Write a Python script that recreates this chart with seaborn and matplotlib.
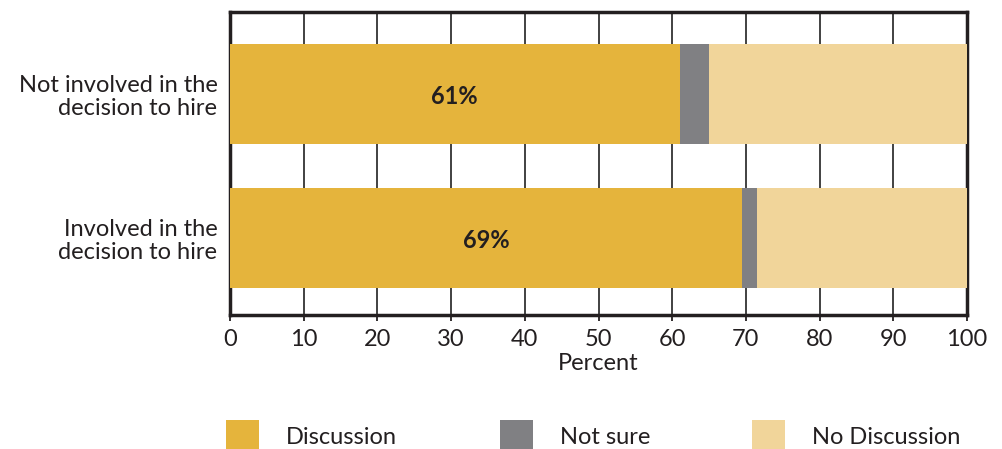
import matplotlib
matplotlib.use("Agg")
import matplotlib.pyplot as plt
import seaborn as sns
import pandas as pd
from matplotlib.patches import Patch

categories = ["Not involved in the\ndecision to hire", "Involved in the\ndecision to hire"]
discussion = [61.0, 69.5]
not_sure = [4.0, 2.0]
no_discussion = [35.0, 28.5]
labels = ["61%", "69%"]
series_names = ["Discussion", "Not sure", "No Discussion"]
colors = ["#E5B43C", "#808083", "#F1D59A"]

sns.set_theme(style="white")
plt.rcParams["font.family"] = ["Lato", "DejaVu Sans"]

df = pd.DataFrame({
    "cat": categories,
    "d": discussion,
    "dn": [a + b for a, b in zip(discussion, not_sure)],
    "total": [a + b + c for a, b, c in zip(discussion, not_sure, no_discussion)],
})

fig = plt.figure(figsize=(10.02, 4.49), dpi=100)
ax = fig.add_axes([230 / 1002, 1 - 315 / 449, 737 / 1002, 303 / 449])

w = 0.69
kw = dict(orient="h", width=w, ax=ax, saturation=1, linewidth=0, zorder=3)
sns.barplot(data=df, y="cat", x="total", color=colors[2], **kw)
sns.barplot(data=df, y="cat", x="dn", color=colors[1], **kw)
sns.barplot(data=df, y="cat", x="d", color=colors[0], **kw)

for i, (v, lab) in enumerate(zip(discussion, labels)):
    ax.text(v / 2, i + 0.02, lab, ha="center", va="center", fontsize=17, fontweight="bold",
            color="#231F20", zorder=5)

ax.set_xlim(0, 100)
ax.set_ylim(1.535, -0.57)
ax.set_xticks(range(0, 101, 10))
ax.xaxis.grid(True, color="#333333", linewidth=1.3, zorder=0)
ax.set_axisbelow(True)
ax.set_ylabel("")
ax.set_xlabel("Percent", fontsize=17, color="#231F20", labelpad=2)
ax.tick_params(axis="x", which="both", bottom=True, length=4, width=1.3, color="#231F20",
               labelsize=17, labelcolor="#231F20", pad=6)
ax.tick_params(axis="y", left=False, labelsize=17, labelcolor="#231F20", pad=3)
for lab in ax.get_yticklabels():
    lab.set_horizontalalignment("right")
    lab.set_multialignment("right")
    lab.set_linespacing(1.1)
for s in ax.spines.values():
    s.set_visible(True)
    s.set_color("#231F20")
    s.set_linewidth(2.5)

lx = [226, 500, 752]
for c, n, x in zip(colors, series_names, lx):
    fig.legend(handles=[Patch(facecolor=c, edgecolor="none", label=n)], loc="center left",
               bbox_to_anchor=(x / 1002, 1 - 436 / 449), frameon=False, fontsize=17,
               handlelength=1.4, handleheight=1.7, handletextpad=1.15, borderpad=0.0,
               borderaxespad=0.0, labelcolor="#231F20")

fig.savefig("out.png", dpi=100)
